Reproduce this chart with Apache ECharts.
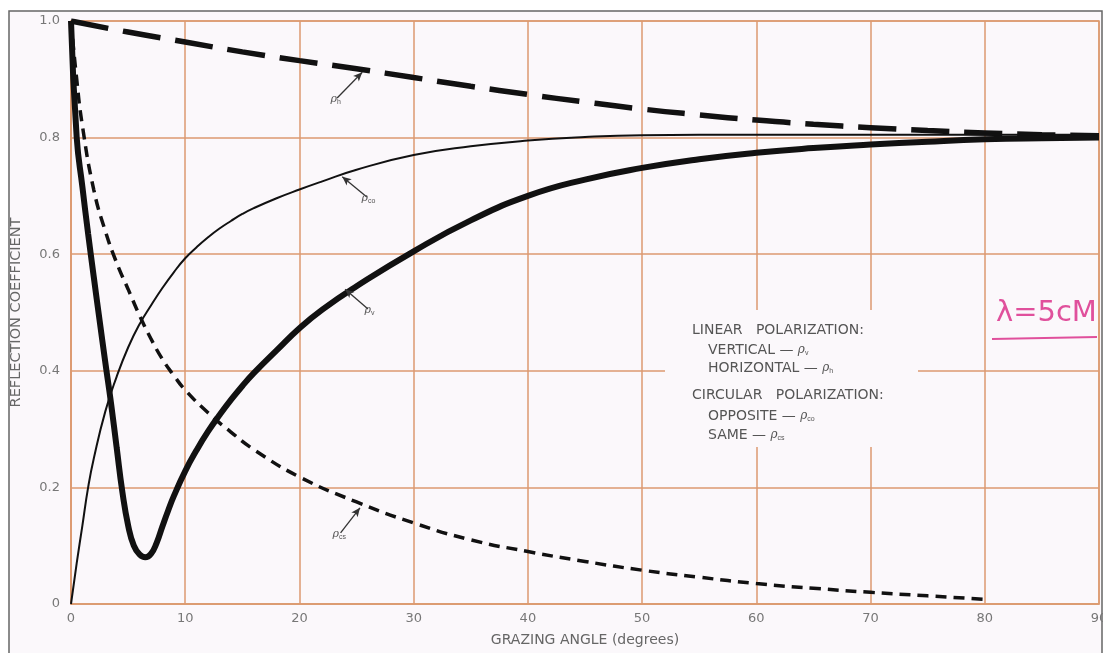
<!DOCTYPE html>
<html>
<head>
<meta charset="utf-8">
<script src="https://cdn.jsdelivr.net/npm/echarts@6/dist/echarts.min.js"></script>
<style>
  html, body { margin: 0; padding: 0; background: #ffffff; }
  #main { width: 1103px; height: 653px; }
</style>
</head>
<body>
<div id="main"></div>
<script>
// grazing angle (degrees) and reflection coefficient
var angH = [0, 5, 10, 15, 20, 25, 30, 35, 40, 45, 50, 55, 60, 65, 70, 75, 80, 85, 90];
var rhoH = [1.0, 0.981, 0.964, 0.947, 0.932, 0.918, 0.903, 0.888, 0.874, 0.861, 0.849, 0.839, 0.830, 0.823, 0.817, 0.812, 0.808, 0.805, 0.803];

var angV = [0, 0.5, 1, 1.5, 2, 2.5, 3, 3.5, 4, 4.5, 5, 5.5, 6, 6.5, 7, 7.5, 8, 8.5, 9, 10, 11, 12, 13, 14, 15, 16, 18, 20, 22, 25, 30, 35, 40, 45, 50, 55, 60, 65, 70, 75, 80, 85, 90];
var rhoV = [1.0, 0.8, 0.715, 0.635, 0.56, 0.487, 0.415, 0.345, 0.268, 0.192, 0.135, 0.1, 0.085, 0.08, 0.086, 0.105, 0.133, 0.16, 0.185, 0.228, 0.264, 0.296, 0.324, 0.35, 0.374, 0.396, 0.435, 0.473, 0.505, 0.545, 0.605, 0.658, 0.70, 0.728, 0.748, 0.763, 0.774, 0.782, 0.788, 0.793, 0.797, 0.799, 0.80];

var angCO = [0, 0.5, 1, 1.5, 2, 3, 4, 5, 6, 7, 8, 9, 10, 11, 12, 13, 14, 15, 16, 18, 20, 22, 25, 30, 35, 40, 45, 50, 60, 70, 80, 90];
var rhoCO = [0, 0.07, 0.135, 0.2, 0.25, 0.33, 0.39, 0.44, 0.48, 0.512, 0.542, 0.569, 0.593, 0.612, 0.629, 0.644, 0.657, 0.669, 0.679, 0.696, 0.711, 0.725, 0.745, 0.77, 0.785, 0.795, 0.801, 0.804, 0.805, 0.805, 0.805, 0.805];

var angCS = [0, 0.5, 1, 2, 3, 4, 5, 6, 7, 8, 9, 10, 12, 14, 16, 20, 25, 30, 35, 40, 45, 50, 55, 60, 65, 70, 75, 80];
var rhoCS = [1.0, 0.9, 0.82, 0.71, 0.64, 0.585, 0.54, 0.495, 0.455, 0.42, 0.392, 0.367, 0.328, 0.295, 0.265, 0.218, 0.175, 0.139, 0.11, 0.09, 0.073, 0.058, 0.046, 0.035, 0.027, 0.02, 0.014, 0.008];

var xTicks = ['0', '10', '20', '30', '40', '50', '60', '70', '80', '90'];

function pairs(xs, ys) {
    var out = [];
    for (var i = 0; i < xs.length; i++) {
        out.push([xs[i], ys[i]]);
    }
    return out;
}

var bg = '#fbf8fb';
var gridColor = '#dc9a70';
var ink = '#111111';
// rich styles for series labels (echarts label uses color)
var rich = {
    r: { fontSize: 11, color: '#555', fontStyle: 'italic', fontFamily: 'DejaVu Serif' },
    s: { fontSize: 7, color: '#555', padding: [6, 0, 0, 0] }
};
// rich styles for graphic texts (zrender uses fill)
var richG = {
    t: { fontSize: 14, fill: '#555', fontFamily: 'DejaVu Sans' },
    r: { fontSize: 12, fill: '#555', fontStyle: 'italic', fontFamily: 'DejaVu Serif' },
    s: { fontSize: 7, fill: '#555', padding: [7, 0, 0, 0] }
};

// little arrows pointing at each curve: [from, to]
function pointer(sub, from, to) {
    return {
        silent: true,
        animation: false,
        symbol: ['none', 'arrow'],
        symbolSize: [6, 9],
        lineStyle: { color: '#333', width: 1.3, type: 'solid' },
        label: {
            show: true,
            position: 'start',
            distance: 2,
            formatter: '{r|ρ}{s|' + sub + '}',
            rich: rich
        },
        data: [[{ coord: from }, { coord: to }]]
    };
}

function legendText(x, y, txt) {
    return { type: 'text', z: 6, silent: true, x: x, y: y, style: { text: txt, rich: richG } };
}

var chart = echarts.init(document.getElementById('main'));

var option = {
    backgroundColor: '#ffffff',
    animation: false,
    graphic: [
        {
            type: 'rect', z: -10, silent: true,
            shape: { x: 9, y: 11, width: 1093, height: 660 },
            style: { fill: bg, stroke: '#666', lineWidth: 1.5 }
        },
        {
            type: 'rect', z: 1, silent: true,
            shape: { x: 665, y: 310, width: 253, height: 137 },
            style: { fill: bg }
        },
        legendText(692, 323, '{t|LINEAR   POLARIZATION:}'),
        legendText(708, 343, '{t|VERTICAL — }{r|ρ}{s|v}'),
        legendText(708, 361, '{t|HORIZONTAL — }{r|ρ}{s|h}'),
        legendText(692, 388, '{t|CIRCULAR   POLARIZATION:}'),
        legendText(708, 409, '{t|OPPOSITE — }{r|ρ}{s|co}'),
        legendText(708, 428, '{t|SAME — }{r|ρ}{s|cs}'),
        {
            type: 'text', z: 6, silent: true, x: 996, y: 299,
            style: { text: 'λ=5cM', font: '29px DejaVu Sans', fill: '#e0509c' }
        },
        {
            type: 'line', z: 6, silent: true,
            shape: { x1: 992, y1: 339, x2: 1097, y2: 337 },
            style: { stroke: '#e0509c', lineWidth: 2 }
        }
    ],
    grid: {
        left: 71, right: 4, top: 21, bottom: 49,
        outerBoundsMode: 'none',
        show: true, borderColor: gridColor, borderWidth: 1.5
    },
    xAxis: {
        type: 'value',
        min: 0, max: 90, interval: 10,
        name: 'GRAZING ANGLE (degrees)',
        nameLocation: 'middle',
        nameGap: 29,
        nameTextStyle: { color: '#666', fontSize: 14, fontFamily: 'DejaVu Sans' },
        axisLine: { lineStyle: { color: gridColor, width: 1.5 } },
        axisTick: { show: false },
        axisLabel: {
            color: '#777', fontSize: 13, margin: 8, fontFamily: 'DejaVu Sans',
            formatter: function (v) { return xTicks[Math.round(v / 10)]; }
        },
        splitLine: { lineStyle: { color: gridColor, width: 1.5 } }
    },
    yAxis: {
        type: 'value',
        min: 0, max: 1.0, interval: 0.2,
        name: 'REFLECTION COEFFICIENT',
        nameLocation: 'middle',
        nameGap: 47,
        nameTextStyle: { color: '#666', fontSize: 14.5, fontFamily: 'DejaVu Sans' },
        axisLine: { show: true, lineStyle: { color: gridColor, width: 1.5 } },
        axisTick: { show: false },
        axisLabel: {
            color: '#777', fontSize: 13, margin: 11, fontFamily: 'DejaVu Sans',
            formatter: function (v) {
                if (v === 0) return '0';
                return v.toFixed(1);
            }
        },
        splitLine: { lineStyle: { color: gridColor, width: 1.5 } }
    },
    series: [
        {
            name: 'rho_h', type: 'line', smooth: 0.5, showSymbol: false, z: 3,
            lineStyle: { color: ink, width: 5.5, type: [38, 15], cap: 'butt' },
            data: pairs(angH, rhoH),
            markLine: pointer('h', [23.3, 0.868], [25.5, 0.912])
        },
        {
            name: 'rho_v', type: 'line', smooth: 0.5, showSymbol: false, z: 3,
            lineStyle: { color: ink, width: 6 },
            data: pairs(angV, rhoV),
            markLine: pointer('v', [26.0, 0.506], [24.0, 0.54])
        },
        {
            name: 'rho_co', type: 'line', smooth: 0.5, showSymbol: false, z: 3,
            lineStyle: { color: ink, width: 2 },
            data: pairs(angCO, rhoCO),
            markLine: pointer('co', [25.9, 0.698], [23.75, 0.733])
        },
        {
            name: 'rho_cs', type: 'line', smooth: 0.5, showSymbol: false, z: 3,
            lineStyle: { color: ink, width: 3.5, type: [11, 7], cap: 'butt' },
            data: pairs(angCS, rhoCS),
            markLine: pointer('cs', [23.6, 0.122], [25.3, 0.165])
        }
    ]
};
chart.setOption(option);
</script>
</body>
</html>
